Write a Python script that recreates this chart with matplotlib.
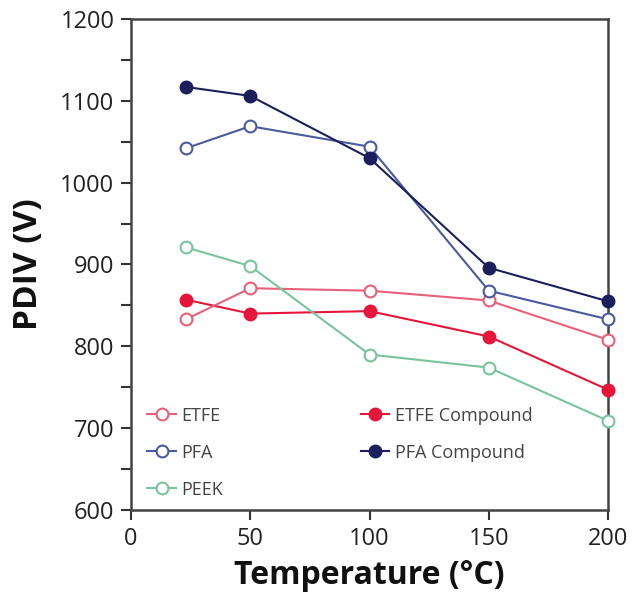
import matplotlib
matplotlib.use("Agg")
import matplotlib.pyplot as plt
from matplotlib.ticker import MultipleLocator

plt.rcParams['font.family'] = ['Open Sans', 'DejaVu Sans']

temps = [23, 50, 100, 150, 200]
etfe = [833, 871, 868, 856, 808]
etfe_comp = [857, 840, 843, 812, 747]
pfa = [1042, 1069, 1044, 868, 833]
pfa_comp = [1117, 1106, 1030, 896, 855]
peek = [921, 898, 790, 774, 709]

series = [
    ("ETFE", etfe, "#e8607a", False),
    ("PFA", pfa, "#4a5a9c", False),
    ("PEEK", peek, "#78c49c", False),
    ("ETFE Compound", etfe_comp, "#e5163a", True),
    ("PFA Compound", pfa_comp, "#1b1f5c", True),
]

fig = plt.figure(figsize=(6.4, 5.98), dpi=100)
ax = fig.add_axes([0.2047, 0.1472, 0.7453, 0.8210])

draw_order = [3, 0, 2, 1, 4]
handles = {}
for i in draw_order:
    name, vals, col, filled = series[i]
    h, = ax.plot(temps, vals, color=col, lw=1.5, marker='o', ms=8.5,
                 mfc=col if filled else 'white', mec=col, mew=1.5, label=name,
                 clip_on=False, zorder=3)
    handles[i] = h

ax.set_xlim(0, 200)
ax.set_ylim(600, 1200)
ax.xaxis.set_major_locator(MultipleLocator(50))
ax.yaxis.set_major_locator(MultipleLocator(100))
ax.yaxis.set_minor_locator(MultipleLocator(50))
ax.tick_params(axis='both', which='major', direction='out', length=7, width=1.5,
               labelsize=17, color='#333333', labelcolor='#222222', pad=5)
ax.tick_params(axis='y', which='minor', direction='out', length=7, width=1.5, color='#333333')
for s in ax.spines.values():
    s.set_linewidth(1.8)
    s.set_color('#444444')

ax.set_xlabel("Temperature (°C)", fontsize=23, fontweight='bold', labelpad=6,
              color='#111111')
ax.set_ylabel("PDIV (V)", fontsize=24, fontweight='bold', labelpad=11,
              color='#111111')

leg = ax.legend([handles[i] for i in range(5)], [series[i][0] for i in range(5)],
                ncol=2, loc='lower left', bbox_to_anchor=(0.0, -0.01), frameon=False,
                fontsize=13, handlelength=1.6, handletextpad=0.3,
                columnspacing=7.6, labelspacing=1.05, labelcolor='#444444')

fig.savefig("out.png", dpi=100)
